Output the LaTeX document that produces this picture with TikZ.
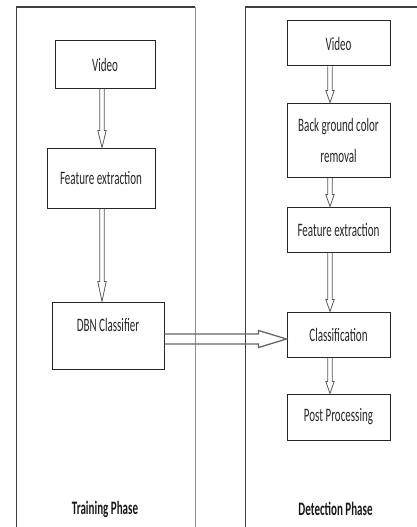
\documentclass[tikz,border=0pt]{standalone}
\usepackage{fontspec}
\setmainfont[FakeStretch=0.58]{Carlito}
\usetikzlibrary{calc}
\newcommand\downarr[4]{%
  \path (#1.south -| #3) coordinate (s) (#2.north -| #3) coordinate (e);
  \draw[arr] ($(s)+(-2.3pt,0pt)$) -- ($(e)+(-2.3pt,#4)$) -- ($(e)+(-4.2pt,#4)$) -- (e)
    -- ($(e)+(4.2pt,#4)$) -- ($(e)+(2.3pt,#4)$) -- ($(s)+(2.3pt,0pt)$);
}
\begin{document}
\begin{tikzpicture}[x=1pt,y=-1pt,
  box/.style={draw=black!85, line width=1pt, rectangle, inner sep=0pt, align=center,
    font=\fontsize{19}{31}\selectfont, text=black!85},
  ttl/.style={font=\fontsize{19}{23}\selectfont\bfseries, inner sep=0pt, text=black!90},
  arr/.style={draw=black!65, line width=0.8pt},
  bigarr/.style={draw=black!60, line width=1.3pt}
]
\useasboundingbox (0,0) rectangle (417,527);
% panels
\draw[black!45, line width=1pt] (195,527) -- (195,7);
\draw[black!75, line width=1.6pt] (16,7) -- (195,7);
\draw[black!75, line width=1pt] (16,527) -- (16,7);
\draw[black!75, line width=1pt] (245,527) -- (245,7);
\draw[black!75, line width=1.6pt] (245,7) -- (417,7);

% helper coordinates
\coordinate (colL) at (102,0);
\coordinate (colR) at (330,0);
\coordinate (rowY) at (0,339);

% training phase
\node[box, minimum width=100, minimum height=47] (v1) at (105,64.5) {Video};
\node[box, minimum width=108, minimum height=60] (f1) at (101,178) {Feature extraction};
\node[box, minimum width=112, minimum height=67, text height=13pt, text depth=21pt] (d1) at (108,335.5) {DBN Classifier};
\node[ttl] (t1) at (105,509) {Training Phase};

% detection phase
\node[box, minimum width=103, minimum height=45] (v2) at (338.5,43.5) {Video};
\node[box, minimum width=103, minimum height=74] (b2) at (338.5,140) {Back ground color\\removal};
\node[box, minimum width=103, minimum height=45] (f2) at (338.5,229.5) {Feature extraction};
\node[box, minimum width=103, minimum height=45] (c2) at (338.5,334.5) {Classification};
\node[box, minimum width=103, minimum height=46] (p2) at (338.5,417) {Post Processing};
\node[ttl] (t2) at (335.5,509) {Detection Phase};

% arrows
\downarr{v1}{f1}{colL}{17pt}
\downarr{f1}{d1}{colL}{20pt}
\downarr{v2}{b2}{colR}{12pt}
\downarr{b2}{f2}{colR}{12pt}
\downarr{f2}{c2}{colR}{12pt}
\downarr{c2}{p2}{colR}{12pt}

\path (d1.east |- rowY) coordinate (hs) (c2.west |- rowY) coordinate (he);
\draw[bigarr] ($(hs)+(0pt,5pt)$) -- ($(he)+(-28pt,5pt)$) -- ($(he)+(-28pt,8.5pt)$) -- (he)
  -- ($(he)+(-28pt,-8.5pt)$) -- ($(he)+(-28pt,-5pt)$) -- ($(hs)+(0pt,-5pt)$);
\end{tikzpicture}
\end{document}
